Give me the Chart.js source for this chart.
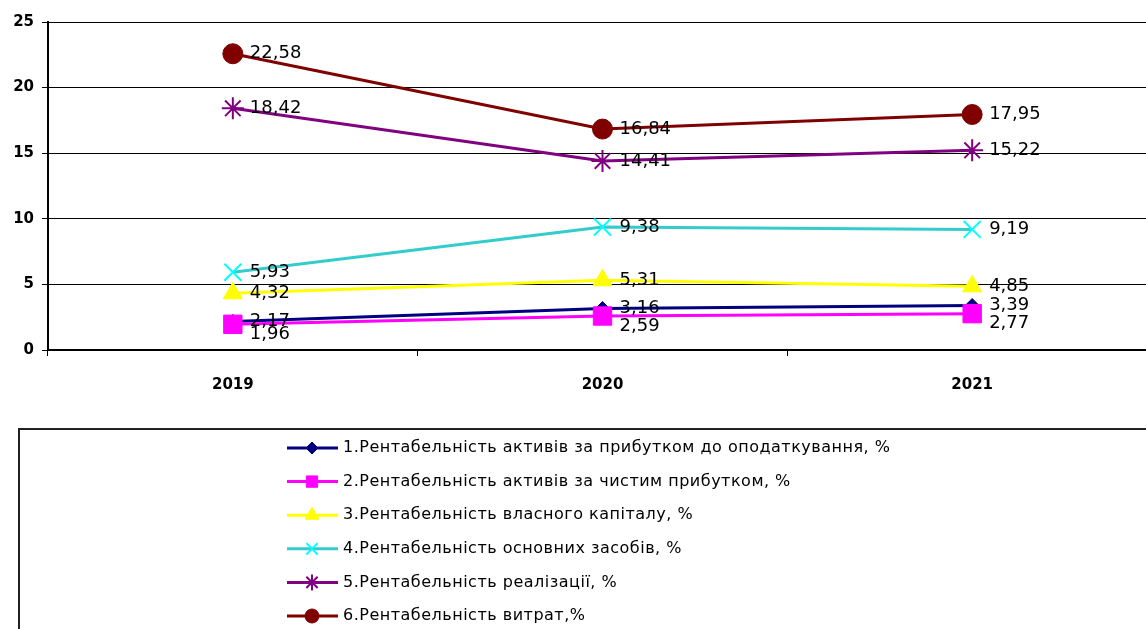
<!DOCTYPE html>
<html>
<head>
<meta charset="utf-8">
<script src="https://cdn.jsdelivr.net/npm/chart.js@4.4.1/dist/chart.umd.min.js"></script>
<style>
  html, body { margin: 0; padding: 0; background: #fff; overflow: hidden; width: 1146px; height: 629px; }
  #wrap { width: 1160px; height: 629px; }
  #chart { display: block; }
</style>
</head>
<body>
<div id="wrap"><canvas id="chart" width="1160" height="629"></canvas></div>
<script>
// years and series values (%)
const years = ['2019', '2020', '2021'];
const assetsBeforeTax = [2.17, 3.16, 3.39];
const assetsNet = [1.96, 2.59, 2.77];
const equity = [4.32, 5.31, 4.85];
const fixedAssets = [5.93, 9.38, 9.19];
const sales = [18.42, 14.41, 15.22];
const costs = [22.58, 16.84, 17.95];
const seriesNames = [
    '1.Рентабельність активів за прибутком до оподаткування, %',
    '2.Рентабельність активів за чистим прибутком, %',
    '3.Рентабельність власного капіталу, %',
    '4.Рентабельність основних засобів, %',
    '5.Рентабельність реалізації, %',
    '6.Рентабельність витрат,%'
];
const yTicks = [0, 5, 10, 15, 20, 25];

const seriesData = [assetsBeforeTax, assetsNet, equity, fixedAssets, sales, costs];
const styles = [
    { line: '#000080', fill: '#000080', point: 'rectRot', r: 7, lr: 6, bw: 1, dy: 0 },
    { line: '#FF00FF', fill: '#FF00FF', point: 'rect', r: 13, lr: 8, bw: 1, dy: 10 },
    { line: '#FFFF00', fill: '#FFFF00', point: 'triangle', r: 11, lr: 8, bw: 1, dy: 0 },
    { line: '#33CCCC', fill: '#00FFFF', point: 'crossRot', r: 12, lr: 8, bw: 2, dy: 0 },
    { line: '#800080', fill: '#800080', point: 'star', r: 11, lr: 8, bw: 2, dy: 0 },
    { line: '#800000', fill: '#800000', point: 'circle', r: 10, lr: 7, bw: 1, dy: 0 }
];

const datasets = seriesData.map((values, i) => ({
    label: seriesNames[i],
    data: values,
    borderColor: styles[i].line,
    backgroundColor: styles[i].fill,
    borderWidth: 3,
    pointStyle: styles[i].point,
    pointRadius: styles[i].r,
    pointBorderColor: styles[i].fill,
    pointBackgroundColor: styles[i].fill,
    pointBorderWidth: styles[i].bw,
    tension: 0,
    order: 5 - i,
    labelDy: styles[i].dy
}));

const fmt = v => v.toFixed(2).replace('.', ',');

// value labels to the right of each point
const valueLabels = {
    id: 'valueLabels',
    afterDatasetsDraw(chart) {
        const ctx = chart.ctx;
        ctx.save();
        ctx.font = '18px "DejaVu Sans"';
        ctx.fillStyle = '#000';
        ctx.textAlign = 'left';
        ctx.textBaseline = 'middle';
        chart.data.datasets.forEach((ds, i) => {
            const meta = chart.getDatasetMeta(i);
            meta.data.forEach((pt, j) => {
                ctx.fillText(fmt(ds.data[j]), pt.x + 17, pt.y + ds.labelDy);
            });
        });
        ctx.restore();
    }
};

// boxed legend under the chart, line + marker + text
const boxLegend = {
    id: 'boxLegend',
    afterDraw(chart) {
        const ctx = chart.ctx;
        ctx.save();
        ctx.strokeStyle = '#222';
        ctx.lineWidth = 2;
        ctx.strokeRect(19, 429, 1200, 300);
        ctx.font = '16px "DejaVu Sans"';
        ctx.letterSpacing = '0.5px';
        ctx.textBaseline = 'middle';
        ctx.textAlign = 'left';
        chart.data.datasets.forEach((ds, i) => {
            const y = 448 + i * 33.6;
            ctx.strokeStyle = ds.borderColor;
            ctx.lineWidth = 3;
            ctx.beginPath();
            ctx.moveTo(287, y);
            ctx.lineTo(338, y);
            ctx.stroke();
            ctx.fillStyle = ds.pointBackgroundColor;
            ctx.strokeStyle = ds.pointBorderColor;
            ctx.lineWidth = ds.pointBorderWidth;
            Chart.helpers.drawPoint(ctx, { pointStyle: ds.pointStyle, radius: styles[i].lr, borderWidth: ds.pointBorderWidth }, 312, y);
            ctx.fillStyle = '#000';
            ctx.fillText(ds.label, 343, y);
        });
        ctx.restore();
    }
};

new Chart(document.getElementById('chart'), {
    type: 'line',
    data: { labels: years, datasets: datasets },
    options: {
        responsive: false,
        animation: false,
        // plot runs a little past the right edge of the page, as in the source image
        layout: { autoPadding: false, padding: { top: 22, left: 0, right: 3, bottom: 219 } },
        plugins: {
            legend: { display: false },
            tooltip: { enabled: false }
        },
        scales: {
            x: {
                type: 'category',
                offset: true,
                afterFit: s => { s.height = 60; s.paddingLeft = 0; s.paddingRight = 0; },
                grid: { offset: true, drawOnChartArea: false, tickLength: 6, color: '#000', lineWidth: 1 },
                border: { color: '#000', width: 2 },
                ticks: { color: '#000', padding: 20, font: { family: 'DejaVu Sans', size: 15, weight: 'bold' } }
            },
            y: {
                min: 0,
                max: 25,
                afterFit: s => { s.width = 48; },
                afterBuildTicks: s => { s.ticks = yTicks.map(v => ({ value: v })); },
                grid: { color: '#000', lineWidth: 1, tickLength: 6 },
                border: { color: '#000', width: 2 },
                ticks: { color: '#000', padding: 8, font: { family: 'DejaVu Sans', size: 15, weight: 'bold' } }
            }
        }
    },
    plugins: [valueLabels, boxLegend]
});
</script>
</body>
</html>
